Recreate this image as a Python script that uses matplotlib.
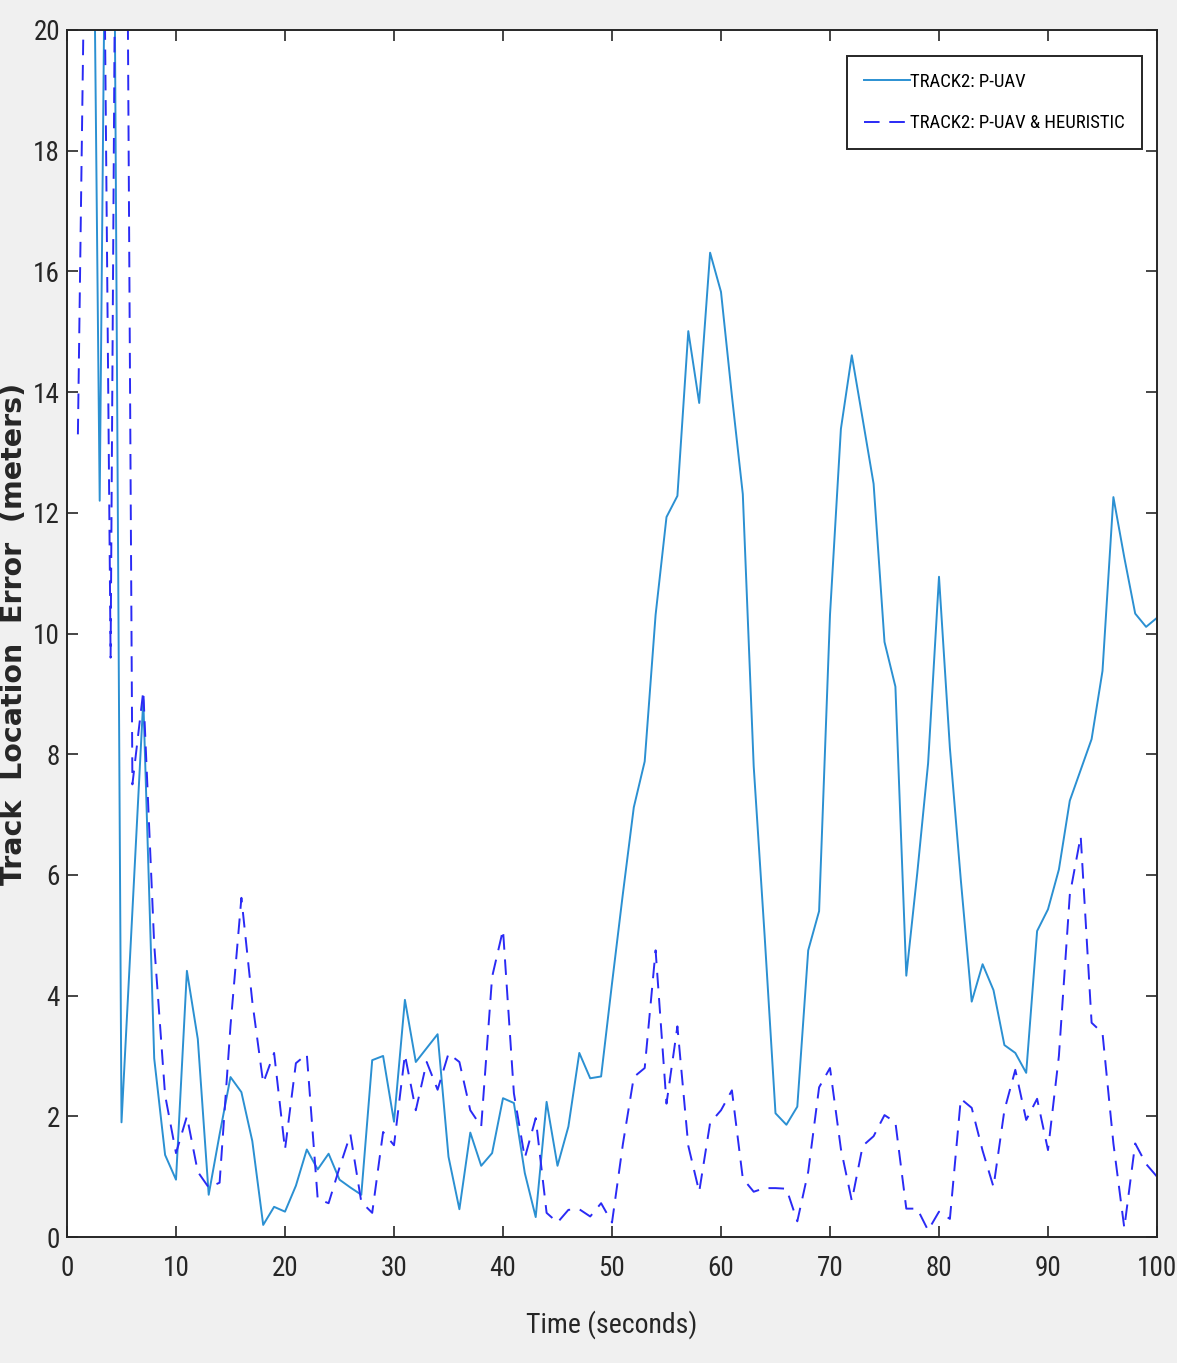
import matplotlib
matplotlib.use("Agg")
import matplotlib.pyplot as plt
import numpy as np

time_s = list(range(1, 101))

p_uav = [35.0, 30.3, 12.2, 32.0, 1.9, 5.4, 8.9, 2.96, 1.36, 0.95,
         4.41, 3.28, 0.7, 1.7, 2.65, 2.4, 1.59, 0.2, 0.5, 0.42,
         0.85, 1.45, 1.12, 1.38, 0.95, 0.82, 0.7, 2.93, 3.0, 1.91,
         3.93, 2.9, 3.13, 3.36, 1.33, 0.46, 1.73, 1.18, 1.39, 2.3,
         2.22, 1.06, 0.33, 2.24, 1.18, 1.83, 3.05, 2.63, 2.66, 4.2,
         5.69, 7.12, 7.88, 10.31, 11.93, 12.28, 15.01, 13.82, 16.31, 15.66,
         13.94, 12.31, 7.8, 5.0, 2.05, 1.86, 2.16, 4.75, 5.4, 10.31,
         13.39, 14.61, 13.55, 12.48, 9.86, 9.12, 4.33, 6.02, 7.85, 10.94,
         8.1, 5.92, 3.9, 4.52, 4.09, 3.18, 3.05, 2.72, 5.07, 5.43,
         6.09, 7.23, 7.74, 8.25, 9.38, 12.26, 11.26, 10.33, 10.11, 10.26]

p_uav_heuristic = [13.3, 26.7, 30.0, 9.6, 38.0, 7.5, 9.05, 4.85, 2.35, 1.39,
                   2.0, 1.08, 0.82, 0.9, 3.5, 5.62, 3.9, 2.55, 3.05, 1.45,
                   2.88, 3.03, 0.63, 0.56, 1.15, 1.7, 0.58, 0.4, 1.74, 1.52,
                   3.02, 2.1, 2.9, 2.44, 3.04, 2.9, 2.1, 1.83, 4.31, 5.09,
                   2.38, 1.31, 1.97, 0.4, 0.24, 0.45, 0.46, 0.34, 0.56, 0.24,
                   1.54, 2.65, 2.8, 4.75, 2.21, 3.49, 1.51, 0.75, 1.89, 2.1,
                   2.43, 0.97, 0.75, 0.81, 0.81, 0.8, 0.26, 1.08, 2.48, 2.8,
                   1.46, 0.6, 1.51, 1.67, 2.02, 1.9, 0.47, 0.47, 0.11, 0.42,
                   0.3, 2.29, 2.14, 1.43, 0.83, 2.1, 2.77, 1.94, 2.29, 1.44,
                   3.0, 5.67, 6.64, 3.55, 3.38, 1.55, 0.15, 1.55, 1.21, 1.0]

x_ticks = list(range(0, 101, 10))
y_ticks = list(range(0, 21, 2))

legend_labels = ["TRACK2: P-UAV", "TRACK2: P-UAV & HEURISTIC"]

narrow = ["Liberation Sans Narrow", "DejaVu Sans Condensed", "Roboto Condensed",
          "Open Sans Condensed", "DejaVu Sans"]
plt.rcParams["font.family"] = narrow
plt.rcParams["font.stretch"] = "condensed"

W, H = 1177, 1363
fig = plt.figure(figsize=(W / 100, H / 100), dpi=100, facecolor="#f0f0f0")
ax = fig.add_axes([67 / W, 1 - 1237 / H, (1157 - 67) / W, (1237 - 30) / H])
ax.set_facecolor("white")

ax.plot(time_s, p_uav, color="#2b90d2", lw=1.4, ls="-", label=legend_labels[0])
ax.plot(time_s, p_uav_heuristic, color="#2a2af5", lw=1.4, ls=(0, (8, 5)),
        label=legend_labels[1])

ax.set_xlim(0, 100)
ax.set_ylim(0, 20)
ax.set_xticks(x_ticks)
ax.set_yticks(y_ticks)
ax.tick_params(direction="in", length=8, width=1.2, colors="#262626",
               top=True, right=True, labelsize=19.5)
ax.tick_params(axis="x", pad=13)
ax.tick_params(axis="y", pad=5)
for s in ax.spines.values():
    s.set_color("#262626")
    s.set_linewidth(1.4)

ax.set_xlabel("Time (seconds)", fontsize=20, color="#262626", labelpad=20)
ax.set_ylabel("Track  Location  Error  (meters)", fontsize=20.5, color="#262626",
              family=["DejaVu Sans"], stretch="normal", fontweight="semibold")
ax.yaxis.set_label_coords((28 - 67) / 1090, 0.5)

leg = ax.legend(loc="upper right",
                bbox_to_anchor=((1142 - 67) / 1090, 1 - (56 - 30) / 1207),
                borderaxespad=0, fontsize=13.5, frameon=True, fancybox=False,
                framealpha=1, edgecolor="#262626", handlelength=2.5,
                handletextpad=0.0, borderpad=0.9, labelspacing=1.25)
leg.get_frame().set_linewidth(1.4)

fig.savefig("out.png", dpi=100, facecolor=fig.get_facecolor())
